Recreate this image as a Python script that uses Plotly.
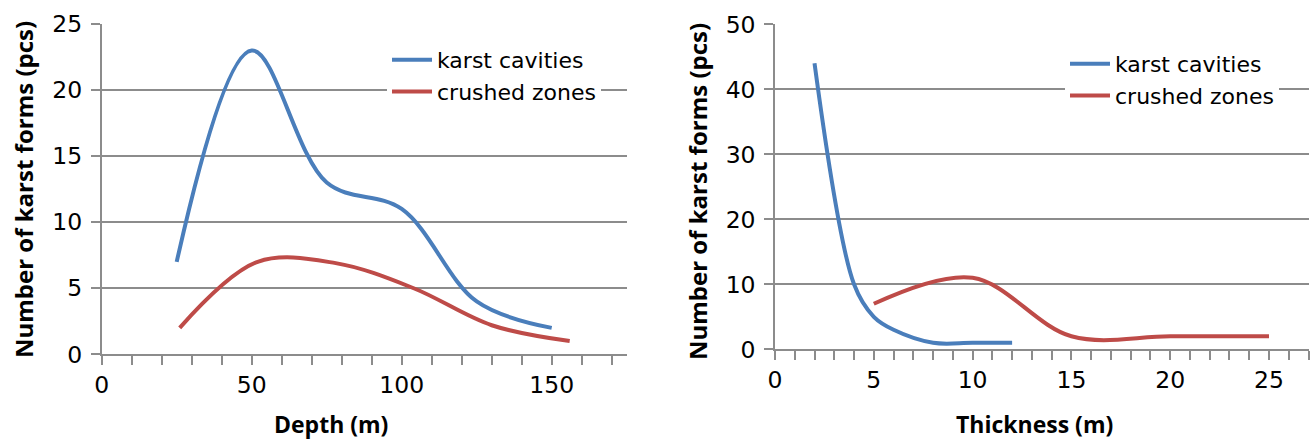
import plotly.graph_objects as go

# ---- data ----
depth_karst_x = [25, 50, 75, 100, 125, 150]
depth_karst_y = [7, 23, 13, 11, 4, 2]
depth_crushed_x = [26, 52, 78, 104, 130, 156]
depth_crushed_y = [2, 7, 6.9, 5, 2.2, 1]

thick_karst_x = [2, 4, 5, 6, 8, 10, 12]
thick_karst_y = [44, 10, 5, 3, 1, 1, 1]
thick_crushed_x = [5, 10, 15, 20, 25]
thick_crushed_y = [7, 11, 2, 2, 2]

series_names = ["karst cavities", "crushed zones"]
series_colors = ["#4A7EBB", "#BE4B48"]

depth_ticks = [0, 50, 100, 150]
thick_ticks = [0, 5, 10, 15, 20, 25]
depth_y_ticks = [0, 5, 10, 15, 20, 25]
thick_y_ticks = [0, 10, 20, 30, 40, 50]

x_title_left = "Depth (m)"
x_title_right = "Thickness (m)"
y_title = "Number of karst forms (pcs)"

W, H = 1312, 442
FONT = "DejaVu Sans"
TITLE_FONT = "Open Sans"
GRID = "#8c8c8c"

fig = go.Figure()

line_w = 4
fig.add_trace(go.Scatter(x=depth_karst_x, y=depth_karst_y, mode="lines", name=series_names[0],
                         line=dict(color=series_colors[0], width=line_w, shape="spline"),
                         xaxis="x", yaxis="y", legend="legend"))
fig.add_trace(go.Scatter(x=depth_crushed_x, y=depth_crushed_y, mode="lines", name=series_names[1],
                         line=dict(color=series_colors[1], width=line_w, shape="spline"),
                         xaxis="x", yaxis="y", legend="legend"))
fig.add_trace(go.Scatter(x=thick_karst_x, y=thick_karst_y, mode="lines", name=series_names[0],
                         line=dict(color=series_colors[0], width=line_w, shape="spline"),
                         xaxis="x2", yaxis="y2", legend="legend2"))
fig.add_trace(go.Scatter(x=thick_crushed_x, y=thick_crushed_y, mode="lines", name=series_names[1],
                         line=dict(color=series_colors[1], width=line_w, shape="spline"),
                         xaxis="x2", yaxis="y2", legend="legend2"))

tickfont = dict(family=FONT, size=23.5, color="#000000")

common = dict(showline=True, linecolor=GRID, linewidth=1.5, ticks="outside", ticklen=9,
              tickcolor=GRID, tickwidth=1.5, zeroline=False, tickfont=tickfont,
              automargin=False, fixedrange=True)

def px_x(p):
    return p / W

def px_y(p):
    return 1 - p / H

fig.update_layout(
    template="none",
    width=W, height=H,
    margin=dict(l=0, r=0, t=0, b=0, pad=0, autoexpand=False),
    paper_bgcolor="white", plot_bgcolor="white",
    font=dict(family=FONT, color="#000000"),
    xaxis=dict(domain=[px_x(101.7), px_x(626.7)], range=[0, 175], tickvals=depth_ticks,
               showgrid=False, anchor="y", ticklabelstandoff=0,
               minor=dict(dtick=10, tick0=0, ticks="outside", ticklen=9, tickcolor=GRID,
                          tickwidth=1.5, showgrid=False), **common),
    yaxis=dict(domain=[px_y(354.3), px_y(24)], range=[0, 25], tickvals=depth_y_ticks,
               showgrid=True, gridcolor=GRID, gridwidth=1.5, anchor="x",
               ticklabelstandoff=4, **common),
    xaxis2=dict(domain=[px_x(775), px_x(1308.5)], range=[0, 27], tickvals=thick_ticks,
                showgrid=False, anchor="y2", ticklabelstandoff=0,
                minor=dict(dtick=1, tick0=0, ticks="outside", ticklen=9, tickcolor=GRID,
                           tickwidth=1.5, showgrid=False), **common),
    yaxis2=dict(domain=[px_y(349.3), px_y(24.3)], range=[0, 50], tickvals=thick_y_ticks,
                showgrid=True, gridcolor=GRID, gridwidth=1.5, anchor="x2",
                ticklabelstandoff=4, **common),
    legend=dict(x=px_x(387), y=px_y(39), xanchor="left", yanchor="top",
                bgcolor="white", borderwidth=0, itemwidth=40,
                font=dict(family=FONT, size=22, color="#000000"), tracegroupgap=0),
    legend2=dict(x=px_x(1065), y=px_y(43), xanchor="left", yanchor="top",
                 bgcolor="white", borderwidth=0, itemwidth=40,
                 font=dict(family=FONT, size=22, color="#000000"), tracegroupgap=0),
    showlegend=True,
)

title_font = dict(family=TITLE_FONT, size=23, color="#000000", weight="bold")
annotations = [
    dict(text=x_title_left, x=px_x(331), y=px_y(424), xref="paper", yref="paper",
         showarrow=False, font=title_font, xanchor="center", yanchor="middle"),
    dict(text=x_title_right, x=px_x(1034), y=px_y(424), xref="paper", yref="paper",
         showarrow=False, font=title_font, xanchor="center", yanchor="middle"),
    dict(text=y_title, x=px_x(23), y=px_y(190), xref="paper", yref="paper", textangle=-90,
         showarrow=False, font=dict(title_font, size=24), xanchor="center", yanchor="middle"),
    dict(text=y_title, x=px_x(697), y=px_y(192), xref="paper", yref="paper", textangle=-90,
         showarrow=False, font=dict(title_font, size=24), xanchor="center", yanchor="middle"),
]
fig.update_layout(annotations=annotations)

fig.write_html("out.html")
